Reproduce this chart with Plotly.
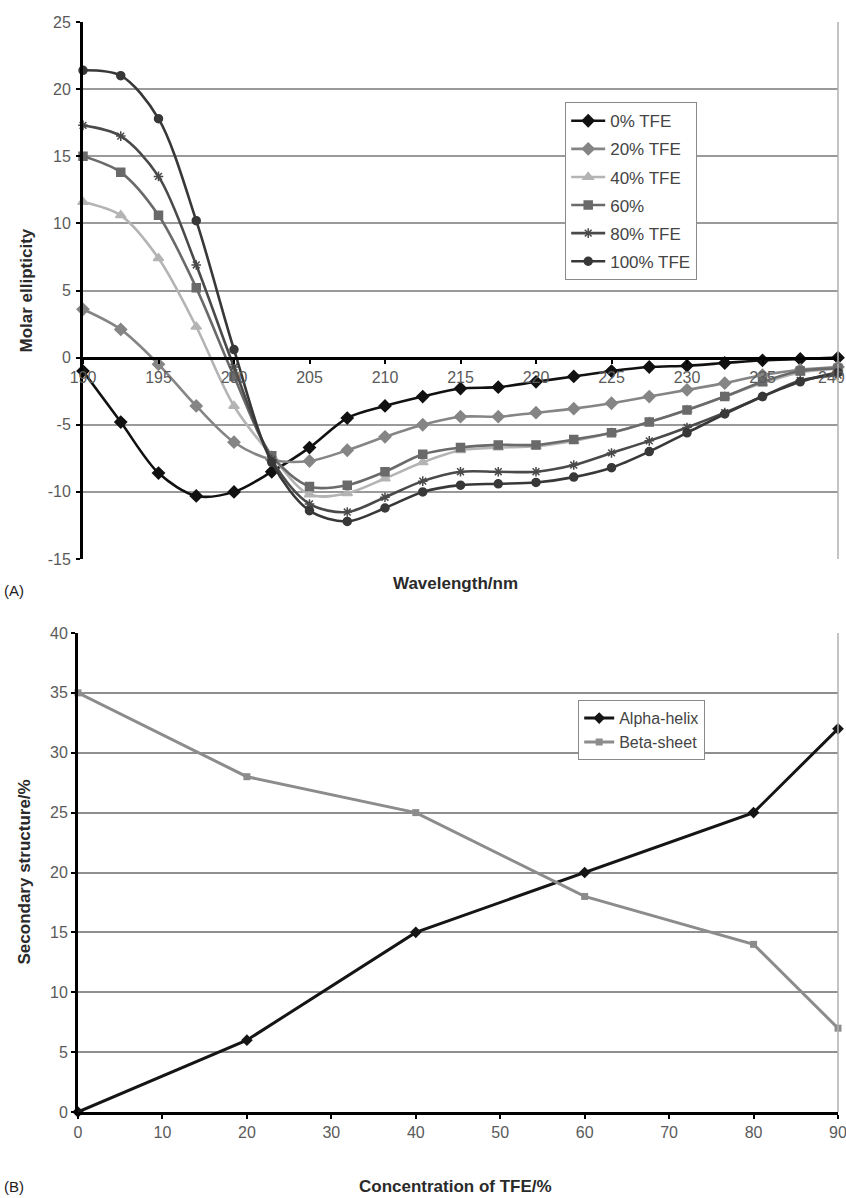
import plotly.graph_objects as go

W, H = 846, 1198

# ---------------- Data: panel A ----------------
wavelength = [190, 192.5, 195, 197.5, 200, 202.5, 205, 207.5, 210, 212.5, 215,
              217.5, 220, 222.5, 225, 227.5, 230, 232.5, 235, 237.5, 240]
tfe_0 = [-1.0, -4.8, -8.6, -10.3, -10.0, -8.5, -6.7, -4.5, -3.6, -2.9, -2.3,
         -2.2, -1.8, -1.4, -1.0, -0.7, -0.6, -0.4, -0.2, -0.1, 0.0]
tfe_20 = [3.6, 2.1, -0.5, -3.6, -6.3, -7.6, -7.7, -6.9, -5.9, -5.0, -4.4,
          -4.4, -4.1, -3.8, -3.4, -2.9, -2.4, -1.9, -1.3, -0.9, -0.7]
tfe_40 = [11.6, 10.6, 7.4, 2.3, -3.6, -7.3, -10.2, -10.1, -9.0, -7.8, -6.9,
          -6.7, -6.6, -6.2, -5.6, -4.8, -3.9, -2.9, -1.9, -1.1, -0.8]
tfe_60 = [15.0, 13.8, 10.6, 5.2, -1.4, -7.3, -9.6, -9.5, -8.5, -7.2, -6.7,
          -6.5, -6.5, -6.1, -5.6, -4.8, -3.9, -2.9, -1.8, -1.0, -0.8]
tfe_80 = [17.3, 16.5, 13.5, 6.9, -0.7, -7.6, -10.9, -11.5, -10.4, -9.2, -8.5,
          -8.5, -8.5, -8.0, -7.1, -6.2, -5.2, -4.1, -2.9, -1.7, -1.3]
tfe_100 = [21.4, 21.0, 17.8, 10.2, 0.6, -7.8, -11.4, -12.2, -11.2, -10.0, -9.5,
           -9.4, -9.3, -8.9, -8.2, -7.0, -5.6, -4.2, -2.9, -1.8, -1.1]
series_a = ["0% TFE", "20% TFE", "40% TFE", "60%", "80% TFE", "100% TFE"]
values_a = [tfe_0, tfe_20, tfe_40, tfe_60, tfe_80, tfe_100]
a_xticks = [190, 195, 200, 205, 210, 215, 220, 225, 230, 235, 240]
a_xticklabels = ["190", "195", "200", "205", "210", "215", "220", "225", "230", "235",
                 "240\u00a0\u00a0\u00a0"]
a_yticks = [-15, -10, -5, 0, 5, 10, 15, 20, 25]
a_yticklabels = ["-15", "-10", "-5", "0", "5", "10", "15", "20", "25"]

# ---------------- Data: panel B ----------------
tfe_conc = [0, 20, 40, 60, 80, 90]
alpha_helix = [0, 6, 15, 20, 25, 32]
beta_sheet = [35, 28, 25, 18, 14, 7]
b_xticks = [0, 10, 20, 30, 40, 50, 60, 70, 80, 90]
b_yticks = [0, 5, 10, 15, 20, 25, 30, 35, 40]

# ---------------- Styles ----------------
colors_a = ["#111111", "#858585", "#b4b4b4", "#6a6a6a", "#4a4a4a", "#383838"]
symbols_a = ["diamond", "diamond", "triangle-up", "square", "asterisk-open", "circle"]
msize_a = [9, 9, 9, 8, 8, 8]

FONT = "Liberation Sans, Arial, sans-serif"


def py(px):
    return 1 - px / H


def pxx(px):
    return px / W


# panel geometry (page pixels)
A_L, A_R, A_T, A_B = 83, 838, 22, 559
B_L, B_R, B_T, B_B = 78, 838, 633, 1112

a_ydom = [py(A_B), py(A_T)]
a_yrange = [-15, 25]
zero_pos = a_ydom[0] + (0 - a_yrange[0]) / (a_yrange[1] - a_yrange[0]) * (a_ydom[1] - a_ydom[0])

fig = go.Figure()

for i, (name, vals, c, s, ms) in enumerate(zip(series_a, values_a, colors_a, symbols_a, msize_a)):
    fig.add_trace(go.Scatter(
        x=wavelength, y=vals, name=name, mode="lines+markers",
        line=dict(color=c, width=2.6, shape="spline", smoothing=0.9),
        marker=dict(symbol=s, size=ms, color=c, line=dict(color=c, width=1.5)),
        xaxis="x", yaxis="y", legend="legend", legendgroup=f"a{i}",
        cliponaxis=False,
    ))

fig.add_trace(go.Scatter(
    x=tfe_conc, y=alpha_helix, name="Alpha-helix", mode="lines+markers",
    line=dict(color="#151515", width=3),
    marker=dict(symbol="diamond", size=9, color="#151515"),
    xaxis="x2", yaxis="y2", legend="legend2", cliponaxis=False,
))
fig.add_trace(go.Scatter(
    x=tfe_conc, y=beta_sheet, name="Beta-sheet", mode="lines+markers",
    line=dict(color="#8c8c8c", width=3),
    marker=dict(symbol="square", size=7, color="#8c8c8c"),
    xaxis="x2", yaxis="y2", legend="legend2", cliponaxis=False,
))

tickfont_a = dict(family=FONT, size=16, color="#5a5a5a")
tickfont_b = dict(family=FONT, size=16, color="#5a5a5a")

common_axis = dict(
    automargin=False, zeroline=False,
    showline=True, linecolor="#000000", linewidth=3,
    ticks="outside", ticklen=4, tickwidth=2, tickcolor="#000000",
    ticklabeloverflow="allow",
)

fig.update_layout(
    width=W, height=H,
    margin=dict(l=0, r=0, t=0, b=0, autoexpand=False),
    paper_bgcolor="white", plot_bgcolor="white",
    font=dict(family=FONT, color="#333333"),
    xaxis=dict(
        domain=[pxx(A_L), pxx(A_R)], range=[190, 240],
        tickvals=a_xticks, ticktext=a_xticklabels,
        anchor="free", position=zero_pos, showgrid=False,
        tickfont=tickfont_a, **common_axis,
    ),
    yaxis=dict(
        domain=a_ydom, range=a_yrange, tickvals=a_yticks, ticktext=a_yticklabels,
        anchor="x", showgrid=True, gridcolor="#9a9a9a", gridwidth=1.5,
        tickfont=tickfont_a, ticklabelstandoff=2, **common_axis,
    ),
    xaxis2=dict(
        domain=[pxx(B_L), pxx(B_R)], range=[0, 90], tickvals=b_xticks,
        anchor="y2", showgrid=False,
        tickfont=tickfont_b, **common_axis,
    ),
    yaxis2=dict(
        domain=[py(B_B), py(B_T)], range=[0, 40], tickvals=b_yticks,
        anchor="x2", showgrid=True, gridcolor="#8f8f8f", gridwidth=1.5,
        tickfont=tickfont_b, ticklabelstandoff=0, **common_axis,
    ),
    legend=dict(
        x=pxx(565), y=py(102), xanchor="left", yanchor="top",
        bgcolor="white", bordercolor="#8a8a8a", borderwidth=1.2,
        font=dict(family=FONT, size=17, color="#444444"),
        itemwidth=34, tracegroupgap=3,
    ),
    legend2=dict(
        x=pxx(578), y=py(700), xanchor="left", yanchor="top",
        bgcolor="white", bordercolor="#8a8a8a", borderwidth=1.2,
        font=dict(family=FONT, size=16, color="#444444"),
        itemwidth=30,
    ),
    showlegend=True,
)

# right border lines of plot areas
fig.add_shape(type="line", xref="x domain", yref="y domain", x0=1, x1=1, y0=0, y1=1,
              line=dict(color="#b0b0b0", width=1.5))
fig.add_shape(type="line", xref="x2 domain", yref="y2 domain", x0=1, x1=1, y0=0, y1=1,
              line=dict(color="#b0b0b0", width=1.5))

# titles and panel labels
ann = [
    dict(text="<b>Molar ellipticity</b>", x=pxx(26), y=py((A_T + A_B) / 2), textangle=-90,
         font=dict(family=FONT, size=17, color="#2a2a2a")),
    dict(text="<b>Wavelength/nm</b>", x=pxx(455), y=py(583),
         font=dict(family=FONT, size=17, color="#2a2a2a")),
    dict(text="(A)", x=pxx(14), y=py(590), font=dict(family=FONT, size=15, color="#222222")),
    dict(text="<b>Secondary structure/%</b>", x=pxx(24), y=py((B_T + B_B) / 2), textangle=-90,
         font=dict(family=FONT, size=17, color="#2a2a2a")),
    dict(text="<b>Concentration of TFE/%</b>", x=pxx(455), y=py(1186),
         font=dict(family=FONT, size=17, color="#2a2a2a")),
    dict(text="(B)", x=pxx(14), y=py(1186), font=dict(family=FONT, size=15, color="#222222")),
]
for a in ann:
    fig.add_annotation(xref="paper", yref="paper", showarrow=False,
                       xanchor="center", yanchor="middle", **a)

fig.write_html(
    "out.html",
    config={"displayModeBar": False},
    post_script="document.documentElement.style.margin='0';"
                "document.body.style.margin='0';document.body.style.padding='0';"
                "document.body.style.overflow='hidden';",
)
